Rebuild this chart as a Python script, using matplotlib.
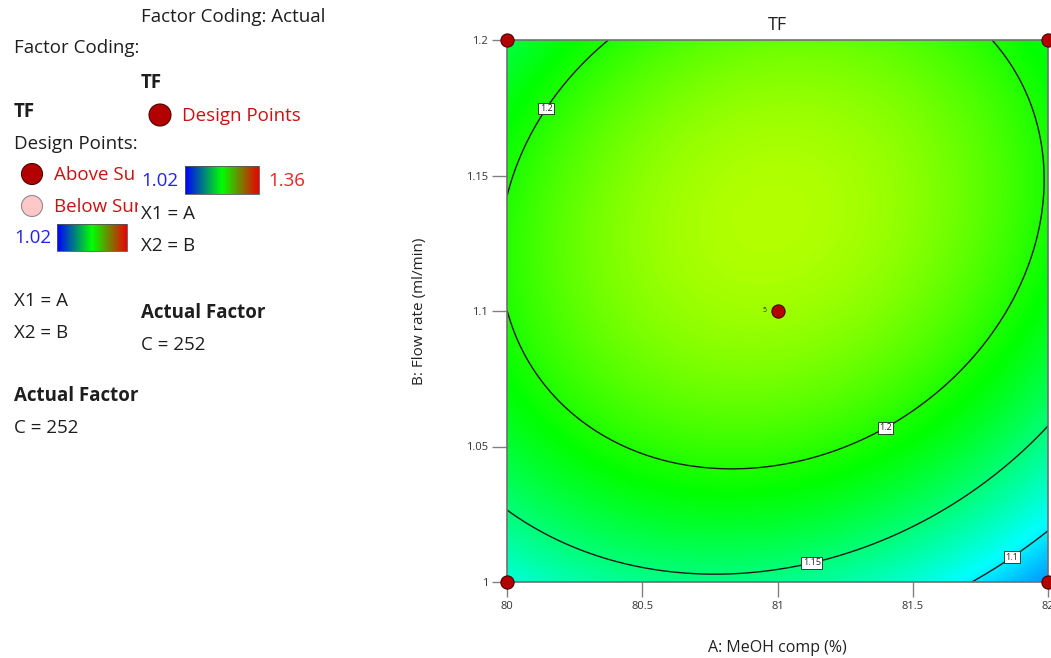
import numpy as np
import matplotlib
matplotlib.use("Agg")
import matplotlib.pyplot as plt
from matplotlib.colors import LinearSegmentedColormap
from matplotlib.patches import Circle, Rectangle

plt.rcParams['font.family'] = ['Open Sans', 'DejaVu Sans']

# 数据: 因子范围 (实际值)
A_RANGE = [80, 82]          # A: MeOH comp (%)
B_RANGE = [1.0, 1.2]        # B: Flow rate (ml/min)
C_VALUE = 252               # Actual Factor C

# 二次模型系数 (编码变量, 估计值)
B0 = 1.2423
B_A = -0.0076
B_B = 0.0410
B_AB = 0.0160
B_AA = -0.050
B_BB = -0.0585

# 设计点
DESIGN_A = [80, 80, 82, 82, 81]
DESIGN_B = [1.0, 1.2, 1.0, 1.2, 1.1]
CENTER_RUNS = 5

# 颜色范围 / 等高线
TF_MIN = 1.02
TF_MAX = 1.36
CONTOUR_LEVELS = [1.1, 1.15, 1.2]
LABEL_POS = [(80.14, 1.175), (81.37, 1.062), (81.12, 1.010), (81.84, 1.013)]

X_TICKS = [80, 80.5, 81, 81.5, 82]
Y_TICKS = [1, 1.05, 1.1, 1.15, 1.2]

W, H = 1051, 658
fig = plt.figure(figsize=(W / 100, H / 100), dpi=100)

# 响应面颜色
surf_cmap = LinearSegmentedColormap.from_list(
    "de", ["#0000ff", "#00ffff", "#00ff00", "#ffff00", "#ff0000"])
legend_cmap = LinearSegmentedColormap.from_list(
    "de_leg", ["#0000ff", "#00ff00", "#ee0000"])

ax = fig.add_axes([507 / W, 1 - 582 / H, 541 / W, 542 / H])

a = np.linspace(A_RANGE[0], A_RANGE[1], 300)
b = np.linspace(B_RANGE[0], B_RANGE[1], 300)
AA, BB = np.meshgrid(a, b)
x1 = (AA - np.mean(A_RANGE)) / ((A_RANGE[1] - A_RANGE[0]) / 2)
x2 = (BB - np.mean(B_RANGE)) / ((B_RANGE[1] - B_RANGE[0]) / 2)
Z = B0 + B_A * x1 + B_B * x2 + B_AB * x1 * x2 + B_AA * x1 ** 2 + B_BB * x2 ** 2

ax.pcolormesh(AA, BB, Z, cmap=surf_cmap, vmin=TF_MIN, vmax=TF_MAX,
              shading='gouraud', rasterized=True)
cs = ax.contour(AA, BB, Z, levels=CONTOUR_LEVELS, colors='#1a1a1a', linewidths=1.0)
labels = ax.clabel(cs, fmt=lambda v: f"{v:g}", fontsize=6.5, inline=False,
                   manual=LABEL_POS)
for t in labels:
    t.set_rotation(0)
    t.set_color('#222222')
    t.set_bbox(dict(facecolor='white', edgecolor='#222222', linewidth=0.6, pad=1.0))

ax.scatter(DESIGN_A, DESIGN_B, s=90, c='#b30000', edgecolors='#4a0000',
           linewidths=0.8, zorder=10, clip_on=False)
ax.text(81 - 0.04, 1.1, str(CENTER_RUNS), fontsize=5, ha='right', va='center',
        color='#222222')

ax.set_xlim(A_RANGE)
ax.set_ylim(B_RANGE)
ax.set_xticks(X_TICKS)
ax.set_xticklabels([f"{v:g}" for v in X_TICKS])
ax.set_yticks(Y_TICKS)
ax.set_yticklabels([f"{v:g}" for v in Y_TICKS])
ax.tick_params(axis='both', direction='out', length=10.5, width=1.0,
               colors='#808080', labelcolor='#333333', labelsize=8, pad=3)
# 中心点处的刻度为黑色
ax.get_xticklines()[2 * X_TICKS.index(81)].set_color('#111111')
for s in ax.spines.values():
    s.set_color('#707070')
    s.set_linewidth(1.2)
ax.set_title('TF', fontsize=13, color='#222222', pad=7)
ax.set_xlabel('A: MeOH comp (%)', fontsize=11.5, color='#222222', labelpad=20)
ax.set_ylabel('B: Flow rate (ml/min)', fontsize=11, color='#222222', labelpad=28)

# 左侧图例 (两层, 底层被上层遮住一部分)
FS = 13.5
DARK = '#1e1e1e'
RED = '#cc1111'
BLUE = '#2222ee'


def pix_axes(x0, x1_):
    lax = fig.add_axes([x0 / W, 0, (x1_ - x0) / W, 1])
    lax.set_xlim(x0, x1_)
    lax.set_ylim(H, 0)
    lax.axis('off')
    return lax


def put(lax, x, y, s, **kw):
    kw.setdefault('color', DARK)
    kw.setdefault('fontsize', FS)
    lax.text(x, y, s, ha='left', va='center', clip_on=True, **kw)


grad = np.linspace(0, 1, 256).reshape(1, -1)

# 底层
l1 = pix_axes(0, 138)
put(l1, 14, 48, 'Factor Coding:')
put(l1, 14, 112, 'TF', fontweight='bold')
put(l1, 14, 144, 'Design Points:')
l1.add_patch(Circle((32, 174), 10.5, facecolor='#b30000', edgecolor='#4a0000', lw=0.8))
put(l1, 54, 175, 'Above Su', color=RED)
l1.add_patch(Circle((32, 206), 10.5, facecolor='#ffc8c8', edgecolor='#8c8c8c', lw=0.8))
put(l1, 54, 207, 'Below Sur', color=RED)
put(l1, 14, 238, f"{TF_MIN:g}", color=BLUE)
l1.imshow(grad, cmap=legend_cmap, aspect='auto', extent=(57, 127, 251, 224))
l1.add_patch(Rectangle((57, 224), 70, 27, fill=False, edgecolor='#555555', lw=0.6))
put(l1, 14, 301, 'X1 = A')
put(l1, 14, 333, 'X2 = B')
put(l1, 14, 396, 'Actual Factor', fontweight='bold')
put(l1, 14, 428, f"C = {C_VALUE}")
l1.set_xlim(0, 138)
l1.set_ylim(H, 0)

# 上层
l2 = pix_axes(138, 440)
put(l2, 141, 17, 'Factor Coding: Actual')
put(l2, 141, 83, 'TF', fontweight='bold')
l2.add_patch(Circle((160, 115), 11, facecolor='#b30000', edgecolor='#4a0000', lw=0.8))
put(l2, 182, 116, 'Design Points', color=RED)
put(l2, 141, 181, f"{TF_MIN:g}", color=BLUE)
l2.imshow(grad, cmap=legend_cmap, aspect='auto', extent=(185, 259, 194, 166))
l2.add_patch(Rectangle((185, 166), 74, 28, fill=False, edgecolor='#555555', lw=0.6))
put(l2, 268, 181, f"{TF_MAX:g}", color='#ee2222')
put(l2, 141, 214, 'X1 = A')
put(l2, 141, 246, 'X2 = B')
put(l2, 141, 313, 'Actual Factor', fontweight='bold')
put(l2, 141, 345, f"C = {C_VALUE}")
l2.set_xlim(138, 440)
l2.set_ylim(H, 0)

fig.savefig('out.png', dpi=100)
